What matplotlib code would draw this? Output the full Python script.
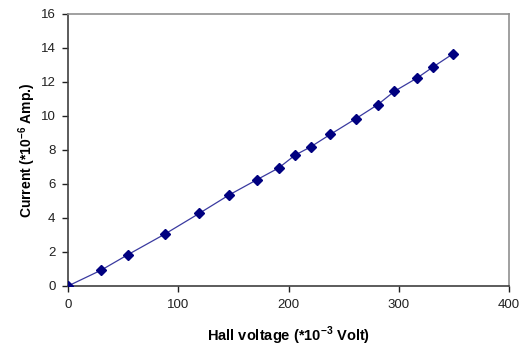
import matplotlib
matplotlib.use("Agg")
import matplotlib.pyplot as plt

plt.rcParams["font.family"] = ["Liberation Sans", "DejaVu Sans"]
plt.rcParams["mathtext.fontset"] = "custom"
plt.rcParams["mathtext.bf"] = "Liberation Sans:bold"
plt.rcParams["mathtext.rm"] = "Liberation Sans"

hall_voltage = [0, 30, 54, 88, 119, 146, 171, 191, 206, 220, 238, 261, 281, 296, 317, 331, 349]
current = [0, 0.93, 1.83, 3.06, 4.27, 5.35, 6.24, 6.94, 7.7, 8.18, 8.92, 9.84, 10.67, 11.45, 12.25, 12.88, 13.65]

fig = plt.figure(figsize=(5.27, 3.49), dpi=100)
ax = fig.add_axes([68 / 527, 1 - 286 / 349, 441 / 527, 272 / 349])

ax.plot(hall_voltage, current, color="#3a3aa0", linewidth=0.9,
        marker="D", markersize=4.6, markerfacecolor="#000080",
        markeredgecolor="#000080", zorder=3)

ax.set_xlim(0, 400)
ax.set_ylim(0, 16)
ax.set_xticks([0, 100, 200, 300, 400])
ax.set_yticks(range(0, 17, 2))
ax.tick_params(direction="out", length=4, width=1, labelsize=9.5, pad=5,
               colors="#202020")

for side in ["left", "bottom"]:
    ax.spines[side].set_color("#404040")
    ax.spines[side].set_linewidth(1.2)
for side in ["top", "right"]:
    ax.spines[side].set_color("#909090")
    ax.spines[side].set_linewidth(1.2)

ax.set_xlabel(r"Hall voltage (*10$^{\mathbf{-3}}$ Volt)", fontsize=10.5,
              fontweight="bold", labelpad=10)
ax.set_ylabel(r"Current (*10$^{\mathbf{-6}}$ Amp.)", fontsize=10,
              fontweight="bold", labelpad=2)

fig.savefig("out.png", dpi=100)
